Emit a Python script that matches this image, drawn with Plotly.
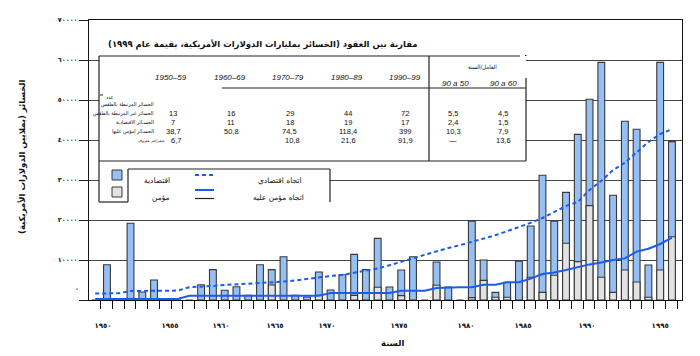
import plotly.graph_objects as go

# ---------------- data ----------------
years = list(range(1950, 2000))
economic = [0, 8800, 0, 19200, 2000, 5000, 0, 0, 0, 3800,
            7600, 2450, 3300, 1200, 8800, 7600, 10800, 1200, 750, 7000,
            2500, 6300, 11400, 7600, 15400, 3250, 7500, 10800, 0, 9500,
            3250, 0, 19700, 10000, 1900, 4400, 9700, 18500, 31200, 19700,
            26900, 41400, 50200, 59400, 26200, 44700, 42700, 8750, 59400, 39600]
insured = [None, None, None, None, None, None, None, None, None, None,
           None, None, None, None, None, 3750, None, None, None, 1150,
           None, None, 1150, None, 3200, None, 1100, None, None, 3700,
           None, None, 600, 4900, 670, 670, None, 5700, 1900, 6200,
           14200, 9600, 23600, 5700, 1900, 7500, 4500, 700, 7500, 15800]
econ_trend = [1600, 1600, 1700, 2250, 2250, 2300, 2300, 2350, 3200, 3300,
              3500, 3750, 3900, 4100, 4300, 4450, 4600, 4900, 5300, 5700,
              6000, 6300, 6800, 7400, 7900, 8700, 9500, 10400, 11300, 12200,
              13000, 13700, 14500, 15300, 16200, 17200, 18200, 19300, 20500, 22000,
              23500, 24500, 27500, 29800, 32500, 34300, 36800, 39500, 41500, 42700]
ins_trend = [250, 250, 250, 250, 250, 250, 250, 250, 1080, 1080,
             1080, 1080, 1080, 1080, 1080, 1080, 1080, 1080, 1080, 1080,
             1750, 1750, 1750, 1750, 1750, 1750, 2330, 2330, 2330, 3000,
             3170, 3170, 3170, 3800, 3800, 4420, 4420, 5330, 6500, 6900,
             7500, 8200, 8900, 9400, 10000, 10400, 12100, 12800, 14000, 15600]

y_tickvals = [0, 10000, 20000, 30000, 40000, 50000, 60000, 70000]
y_ticktext = ["", "١٠٠٠٠", "٢٠٠٠٠", "٣٠٠٠٠", "٤٠٠٠٠", "٥٠٠٠٠", "٦٠٠٠٠", "٧٠٠٠٠"]
x_label_pos = [1950.66, 1956.36, 1960.69, 1965.28, 1969.70, 1975.81, 1981.5, 1986.35, 1991.78, 1998.0]
x_label_text = ["١٩٥٠", "١٩٥٥", "١٩٦٠", "١٩٦٥", "١٩٧٠", "١٩٧٥", "١٩٨٠", "١٩٨٥", "١٩٩٠", "١٩٩٥"]

decades = ["1950–59", "1960–69", "1970–79", "1980–89", "1990–99"]
row_labels = ["الخسائر المرتبطة بالطقس", "الخسائر غير المرتبطة بالطقس",
              "الخسـائر الاقتصادية", "الخسـائر امؤمن عليها"]
row_weather = ["13", "16", "29", "44", "72"]
row_nonweather = ["7", "11", "18", "19", "17"]
row_economic = ["38,7", "50,8", "74,5", "118,4", "399"]
row_insured = ["6,7", "", "10,8", "21,6", "91,9"]
factor_heads = ["90 a 50", "90 a 60"]
factor_rows = [["5,5", "4,5"], ["2,4", "1,5"], ["10,3", "7,9"], ["—", "13,6"]]

BLUE_FILL = "#96bff4"
GRAY_FILL = "#e2e2e2"
EDGE = "#383838"
TREND = "#1a5cf0"
AR = "DejaVu Sans"
ARC = "DejaVu Sans Condensed, DejaVu Sans"
LAT = "Liberation Sans"

# ---------------- geometry (layout only) ----------------
# the page body has an 8px margin, so the figure is drawn 8px in from the corner
OFF = 8
W, H = 700 - OFF, 356 - OFF
L, R, T, B = 89 - OFF, 18, 20 - OFF, 56
PW, PH = W - L - R, H - T - B
X0, Y1 = OFF + L, OFF + T + PH   # screen px of plot left / bottom
def fx(px):
    return (px - X0) / PW
def fy(py):
    return (Y1 - py) / PH

fig = go.Figure()
fig.add_trace(go.Bar(x=years, y=economic, width=0.58, name="اقتصادية",
                     marker=dict(color=BLUE_FILL, line=dict(color=EDGE, width=1.1))))
fig.add_trace(go.Bar(x=years, y=insured, width=0.58, name="مؤمن",
                     marker=dict(color=GRAY_FILL, line=dict(color=EDGE, width=1.1))))
fig.add_trace(go.Scatter(x=years, y=econ_trend, mode="lines", name="اتجاه اقتصادي",
                         line=dict(color=TREND, width=2, dash="4px,3px")))
fig.add_trace(go.Scatter(x=years, y=ins_trend, mode="lines", name="اتجاه مؤمن عليه",
                         line=dict(color=TREND, width=2)))

shapes = []
def rect(x0, y0, x1, y1, fill="white", lc=None, lw=0):
    shapes.append(dict(type="rect", xref="paper", yref="paper", layer="above",
                       x0=fx(x0), x1=fx(x1), y0=fy(y1), y1=fy(y0), fillcolor=fill,
                       line=dict(color=lc or fill, width=lw)))
def line(x0, y0, x1, y1, color="#222", width=1.2, dash="solid"):
    shapes.append(dict(type="line", xref="paper", yref="paper", layer="above",
                       x0=fx(x0), x1=fx(x1), y0=fy(y0), y1=fy(y1),
                       line=dict(color=color, width=width, dash=dash)))

# table + legend white panels
rect(99, 56, 526, 161)
rect(99, 161, 330, 202)
# table lines
line(99, 56, 520, 56)
line(525, 55.5, 526.5, 55.5)
line(99, 56, 99, 202)
line(99, 202, 128, 202)
line(99, 161, 526, 161)
line(526, 78, 526, 161)
line(429, 56, 429, 161)
line(222, 88, 526, 88)
# inner legend box
line(128, 169, 330, 169)
line(128, 169, 128, 202)
line(330, 169, 330, 202)
# legend swatches
rect(112, 170, 122, 180, fill=BLUE_FILL, lc=EDGE, lw=1)
rect(112, 187, 122, 197, fill=GRAY_FILL, lc=EDGE, lw=1)
line(195, 175, 214, 175, color=TREND, width=2, dash="4px,3px")
line(195, 190, 214, 190, color=TREND, width=2)
line(195, 198.5, 214, 198.5, color="#222", width=1.2)

ann = []
def text(s, px, py, size=7.5, family=AR, anchor="center", bold=False, italic=False, angle=0):
    f = dict(family=family, size=size, color="#111")
    if bold:
        f["weight"] = "bold"
    if italic:
        f["style"] = "italic"
    ann.append(dict(text=s, xref="paper", yref="paper", x=fx(px), y=fy(py),
                    xanchor=anchor, yanchor="middle", showarrow=False, font=f,
                    textangle=angle))

RLM = "\u200f"
text("مقارنة بين العقود (الخسائر بمليارات الدولارات الأمريكية، بقيمة عام ١٩٩٩)" + RLM,
     420, 44, size=8.5, bold=True, anchor="right")
text("العامل/السنة", 482, 67, size=6, family=ARC)
dec_x = [171, 229.5, 288, 346.5, 405]
val_x = [173, 231, 289.5, 348, 405]
for d, xx in zip(decades, dec_x):
    text(d, xx, 77, size=8, family=LAT, italic=True)
for h, xx in zip(factor_heads, [455, 503]):
    text(h, xx, 83, size=8, family=LAT, italic=True)
text("عدد", 104, 97, size=5.5, anchor="left", family=ARC)
line(100, 95, 103, 95, width=1)
for lab, yy in zip(row_labels, [104.5, 113, 122, 131]):
    text(lab, 156, yy, size=5.3, anchor="right", family=ARC)
VROWS = [113, 122, 131, 140]
for row, yy in zip([row_weather, row_nonweather, row_economic], VROWS[:3]):
    for v, xx in zip(row, val_x):
        text(v, xx, yy, size=7.5, family=LAT)
ins_cols = [val_x[0] + 3, val_x[1], val_x[2] + 3, val_x[3], val_x[4] + 1]
for v, xx in zip(row_insured, ins_cols):
    if v:
        text(v, xx, VROWS[3], size=7.5, family=LAT)
text("صفر/غير معروف", 166, VROWS[3] + 0.5, size=4.2, anchor="right", family=ARC)
for row, yy in zip(factor_rows, VROWS):
    for v, xx in zip(row, [453, 503]):
        text(v, xx, yy, size=7.5, family=LAT)
# legend text
text("اقتصادية", 172, 180, size=7.5, anchor="right")
text("مؤمن", 172, 197, size=7.5, anchor="right")
text("اتجاه اقتصادي", 304, 180, size=7.5, anchor="right")
text("اتجاه مؤمن عليه", 306, 197, size=7.5, anchor="right")
# axis titles / stray zero label
text("الخسائر (بملايين الدولارات الأمريكية)" + RLM, 22, 157, size=8.5, bold=True, angle=-90)
text("السنة", 392, 343, size=8.5, bold=True)
text("٠", 77, 288.5, size=6.5, bold=True)

fig.update_layout(
    width=W, height=H, margin=dict(l=L, r=R, t=T, b=B, autoexpand=False),
    paper_bgcolor="white", plot_bgcolor="white",
    barmode="overlay", showlegend=False,
    shapes=shapes, annotations=ann,
)
fig.update_xaxes(range=[1949.473, 1999.855], showgrid=False, zeroline=False, automargin=False,
                 showline=True, linecolor="#111", linewidth=1.2, mirror=True,
                 tickmode="array", tickvals=x_label_pos, ticktext=x_label_text,
                 ticks="outside", ticklen=18, tickcolor="rgba(0,0,0,0)",
                 tickfont=dict(family=AR, size=7, color="#111", weight="bold"),
                 minor=dict(tickmode="linear", tick0=1949.45, dtick=1, ticks="outside",
                            ticklen=8, tickcolor="#111", tickwidth=1, showgrid=False))
fig.update_yaxes(range=[0, 70000], tickmode="array", tickvals=y_tickvals, ticktext=y_ticktext,
                 showgrid=True, gridcolor="#444", gridwidth=1, zeroline=False, automargin=False,
                 showline=True, linecolor="#111", linewidth=1.2, mirror=True,
                 ticks="outside", ticklen=9, tickcolor="#222", tickwidth=1,
                 tickfont=dict(family=AR, size=6.5, color="#111", weight="bold"))

fig.write_html("out.html")
